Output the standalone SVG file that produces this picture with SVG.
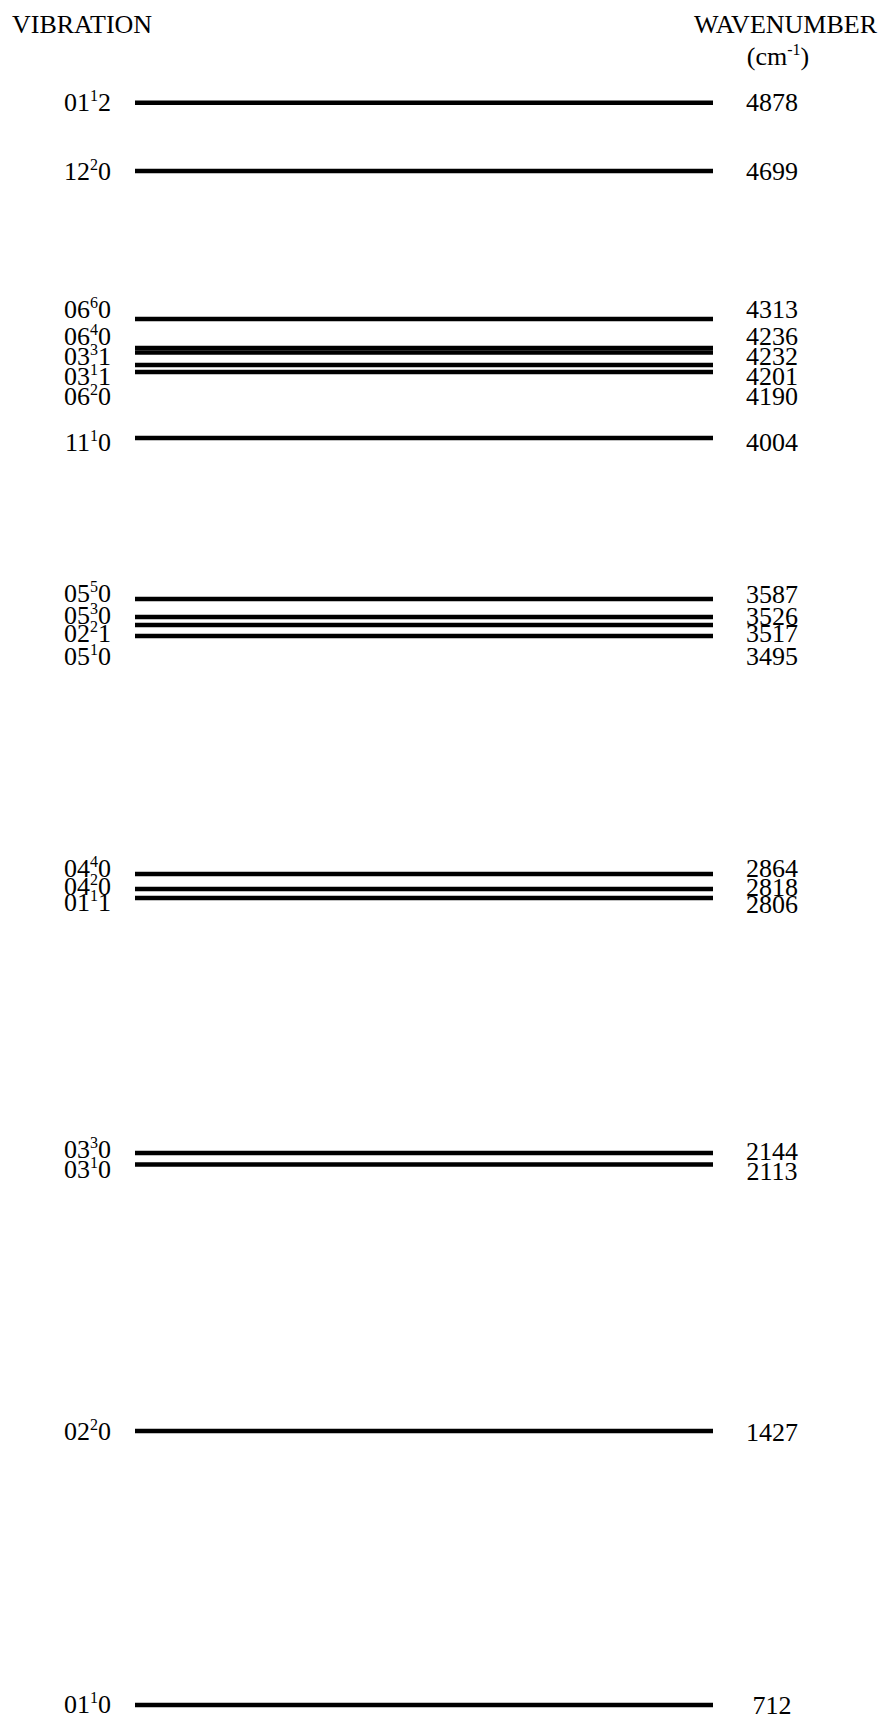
<svg xmlns="http://www.w3.org/2000/svg" width="882" height="1718" viewBox="0 0 882 1718">
<style>
text{font-family:"Liberation Serif","Times New Roman",serif;font-size:26px;fill:#000}
.l{text-anchor:end}
.r{text-anchor:middle}
.s{font-size:16px}
line.lv{stroke:#000;stroke-width:4.4}
</style>
<rect width="882" height="1718" fill="#fff"/>
<text x="12" y="33">VIBRATION</text>
<text x="877" y="33" text-anchor="end">WAVENUMBER</text>
<text x="778" y="65" class="r">(cm<tspan class="s" dy="-10">-1</tspan><tspan dy="10">)</tspan></text>
<g id="connectors"></g>
<g id="lv4878"><line class="lv" x1="135" y1="102.7" x2="713" y2="102.7"/><text x="111" y="111" class="l">01<tspan class="s" dy="-10">1</tspan><tspan dy="10">2</tspan></text><text x="772" y="111" class="r">4878</text></g>
<g id="lv4699"><line class="lv" x1="135" y1="171" x2="713" y2="171"/><text x="111" y="180" class="l">12<tspan class="s" dy="-10">2</tspan><tspan dy="10">0</tspan></text><text x="772" y="180" class="r">4699</text></g>
<g id="lv4313"><line class="lv" x1="135" y1="319" x2="713" y2="319"/><text x="111" y="318" class="l">06<tspan class="s" dy="-10">6</tspan><tspan dy="10">0</tspan></text><text x="772" y="318" class="r">4313</text></g>
<g id="lv4236"><line class="lv" x1="135" y1="348" x2="713" y2="348"/><text x="111" y="345" class="l">06<tspan class="s" dy="-10">4</tspan><tspan dy="10">0</tspan></text><text x="772" y="345" class="r">4236</text></g>
<g id="lv4232"><line class="lv" x1="135" y1="352.5" x2="713" y2="352.5"/><text x="111" y="365" class="l">03<tspan class="s" dy="-10">3</tspan><tspan dy="10">1</tspan></text><text x="772" y="365" class="r">4232</text></g>
<g id="lv4201"><line class="lv" x1="135" y1="365" x2="713" y2="365"/><text x="111" y="385" class="l">03<tspan class="s" dy="-10">1</tspan><tspan dy="10">1</tspan></text><text x="772" y="385" class="r">4201</text></g>
<g id="lv4190"><line class="lv" x1="135" y1="372" x2="713" y2="372"/><text x="111" y="405" class="l">06<tspan class="s" dy="-10">2</tspan><tspan dy="10">0</tspan></text><text x="772" y="405" class="r">4190</text></g>
<g id="lv4004"><line class="lv" x1="135" y1="438" x2="713" y2="438"/><text x="111" y="451" class="l">11<tspan class="s" dy="-10">1</tspan><tspan dy="10">0</tspan></text><text x="772" y="451" class="r">4004</text></g>
<g id="lv3587"><line class="lv" x1="135" y1="599" x2="713" y2="599"/><text x="111" y="602" class="l">05<tspan class="s" dy="-10">5</tspan><tspan dy="10">0</tspan></text><text x="772" y="603" class="r">3587</text></g>
<g id="lv3526"><line class="lv" x1="135" y1="617" x2="713" y2="617"/><text x="111" y="624" class="l">05<tspan class="s" dy="-10">3</tspan><tspan dy="10">0</tspan></text><text x="772" y="625" class="r">3526</text></g>
<g id="lv3517"><line class="lv" x1="135" y1="625" x2="713" y2="625"/><text x="111" y="642" class="l">02<tspan class="s" dy="-10">2</tspan><tspan dy="10">1</tspan></text><text x="772" y="642" class="r">3517</text></g>
<g id="lv3495"><line class="lv" x1="135" y1="636" x2="713" y2="636"/><text x="111" y="665" class="l">05<tspan class="s" dy="-10">1</tspan><tspan dy="10">0</tspan></text><text x="772" y="665" class="r">3495</text></g>
<g id="lv2864"><line class="lv" x1="135" y1="874" x2="713" y2="874"/><text x="111" y="877" class="l">04<tspan class="s" dy="-10">4</tspan><tspan dy="10">0</tspan></text><text x="772" y="877" class="r">2864</text></g>
<g id="lv2818"><line class="lv" x1="135" y1="889" x2="713" y2="889"/><text x="111" y="895" class="l">04<tspan class="s" dy="-10">2</tspan><tspan dy="10">0</tspan></text><text x="772" y="896" class="r">2818</text></g>
<g id="lv2806"><line class="lv" x1="135" y1="898" x2="713" y2="898"/><text x="111" y="911" class="l">01<tspan class="s" dy="-10">1</tspan><tspan dy="10">1</tspan></text><text x="772" y="913" class="r">2806</text></g>
<g id="lv2144"><line class="lv" x1="135" y1="1153" x2="713" y2="1153"/><text x="111" y="1158" class="l">03<tspan class="s" dy="-10">3</tspan><tspan dy="10">0</tspan></text><text x="772" y="1160" class="r">2144</text></g>
<g id="lv2113"><line class="lv" x1="135" y1="1164.5" x2="713" y2="1164.5"/><text x="111" y="1178" class="l">03<tspan class="s" dy="-10">1</tspan><tspan dy="10">0</tspan></text><text x="772" y="1180" class="r">2113</text></g>
<g id="lv1427"><line class="lv" x1="135" y1="1431" x2="713" y2="1431"/><text x="111" y="1440" class="l">02<tspan class="s" dy="-10">2</tspan><tspan dy="10">0</tspan></text><text x="772" y="1441" class="r">1427</text></g>
<g id="lv712"><line class="lv" x1="135" y1="1705" x2="713" y2="1705"/><text x="111" y="1713" class="l">01<tspan class="s" dy="-10">1</tspan><tspan dy="10">0</tspan></text><text x="772" y="1714" class="r">712</text></g>
</svg>
